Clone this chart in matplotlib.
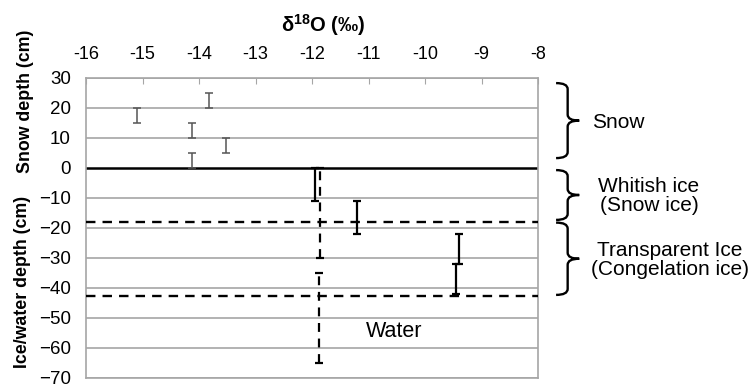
import numpy as np
import matplotlib
matplotlib.use("Agg")
import matplotlib.pyplot as plt
from matplotlib.path import Path
from matplotlib.patches import PathPatch

plt.rcParams['font.family'] = ['Liberation Sans', 'DejaVu Sans']
plt.rcParams['mathtext.fontset'] = 'custom'
plt.rcParams['mathtext.rm'] = 'Liberation Sans'
plt.rcParams['mathtext.bf'] = 'Liberation Sans:bold'

# snow samples (thin grey bars): d18O, depth top, depth bottom
snow_x = [-15.1, -13.83, -14.13, -13.53, -14.13]
snow_top = [20, 25, 15, 10, 5]
snow_bot = [15, 20, 10, 5, 0]

# ice samples (black bars)
ice_x = [-11.94, -11.2, -9.4, -9.46]
ice_top = [0, -11, -22, -32]
ice_bot = [-11, -22, -32, -42]

# water samples (dashed bars)
water_x = [-11.85, -11.88]
water_top = [0, -35]
water_bot = [-30, -65]

# layer boundaries
boundaries = [-18, -42.5]

xticks = list(range(-16, -7))
yticks = list(range(-70, 31, 10))

fig = plt.figure(figsize=(7.52, 3.85), dpi=100)
ax = fig.add_axes([86/752, 1-378/385, (538-86)/752, 300/385])
ax.set_xlim(-16, -8)
ax.set_ylim(-70, 30)

for y in yticks:
    if y == 0:
        ax.axhline(y, color='black', lw=1.8, zorder=2)
    else:
        ax.axhline(y, color='#a6a6a6', lw=1.2, zorder=1)

for b in boundaries:
    ax.axhline(b, color='black', lw=1.7, ls=(0, (4, 3)), zorder=3, clip_on=False)


def bars(xs, tops, bots, color, lw, ls='-'):
    mid = [(t + b) / 2 for t, b in zip(tops, bots)]
    half = [(t - b) / 2 for t, b in zip(tops, bots)]
    eb = ax.errorbar(xs, mid, yerr=half, fmt='none', ecolor=color,
                     elinewidth=lw, capsize=3, capthick=lw, zorder=4)
    eb[2][0].set_linestyle(ls)
    return eb


bars(snow_x, snow_top, snow_bot, '#555555', 1.1)
bars(ice_x, ice_top, ice_bot, 'black', 1.6)
bars(water_x, water_top, water_bot, 'black', 1.6, ls=(0, (4, 3)))

ax.xaxis.tick_top()
ax.set_xticks(xticks)
ax.set_xticklabels([str(v) for v in xticks])
ax.set_yticks(yticks)
ax.tick_params(axis='x', direction='in', length=4, color='#a6a6a6', pad=11, labelsize=13)
ax.tick_params(axis='y', length=0, pad=11, labelsize=13.5)
for s in ax.spines.values():
    s.set_color('#a6a6a6')
    s.set_linewidth(1.2)

ax.text(-11.05, -54.5, 'Water', fontsize=15.5, ha='left', va='center')

fig.text(323/752, 1-25/385, r'δ$^{\mathbf{18}}$O (‰)', fontsize=14.5, fontweight='bold',
         ha='center', va='center')
fig.text(25/752, 1-101/385, 'Snow depth (cm)', rotation=90, fontsize=12.8, fontweight='bold',
         ha='center', va='center')
fig.text(23/752, 1-282/385, 'Ice/water depth (cm)', rotation=90, fontsize=12.8, fontweight='bold',
         ha='center', va='center')


def brace(y_top, y_bot, x0=-7.68, w=0.41, r=2.0):
    xm = x0 + w / 2
    ym = (y_top + y_bot) / 2
    verts = [(x0, y_top), (xm, y_top), (xm, y_top - r),
             (xm, ym + r), (xm, ym), (x0 + w, ym),
             (xm, ym), (xm, ym - r),
             (xm, y_bot + r), (xm, y_bot), (x0, y_bot)]
    codes = [Path.MOVETO, Path.CURVE3, Path.CURVE3,
             Path.LINETO, Path.CURVE3, Path.CURVE3,
             Path.CURVE3, Path.CURVE3,
             Path.LINETO, Path.CURVE3, Path.CURVE3]
    ax.add_patch(PathPatch(Path(verts, codes), fill=False, lw=1.7,
                           color='black', clip_on=False))


brace(28.3, 3.3)
brace(-0.7, -17.3)
brace(-18.2, -42.3)

fig.text(592/752, 1-123/385, 'Snow', fontsize=15, ha='left', va='center')
fig.text(649/752, 1-196/385, 'Whitish ice\n(Snow ice)', fontsize=15, ha='center',
         va='center', linespacing=1.05)
fig.text(670/752, 1-260/385, 'Transparent Ice\n(Congelation ice)', fontsize=15,
         ha='center', va='center', linespacing=1.05)

fig.savefig('out.png', dpi=100)
